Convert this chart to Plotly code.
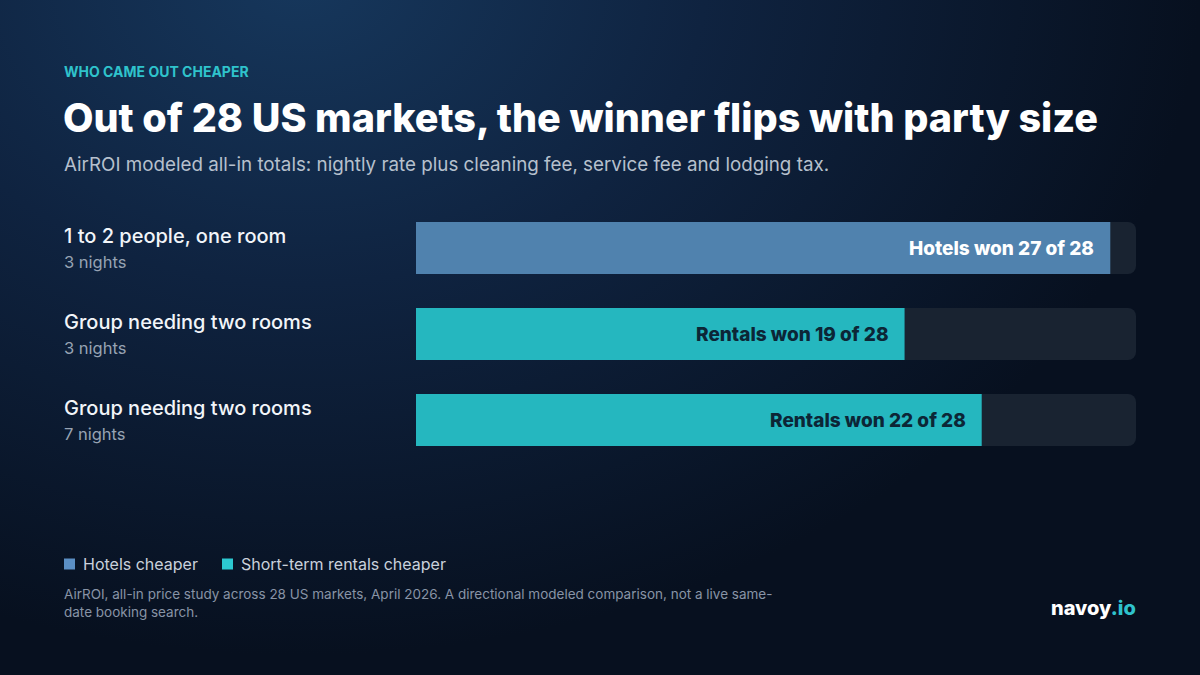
import base64
import plotly.graph_objects as go

# ---- data ----
scenarios = ["1 to 2 people, one room", "Group needing two rooms", "Group needing two rooms"]
stays = ["3 nights", "3 nights", "7 nights"]
winners = ["Hotels", "Rentals", "Rentals"]
wins = [27, 19, 22]
total_markets = 28
legend_labels = ["Hotels cheaper", "Short-term rentals cheaper"]

# ---- style ----
HOTEL = "#5082ae"
RENTAL = "#25b7bf"
TRACK = "#192331"
FONT = "Inter"

# layout geometry (pixels)
W, H = 1200, 675
L, R = 416, 64
T, B = 205, 212
pw, ph = W - L - R, H - T - B

def px_x(px):
    return (px - L) / pw

def px_y(py):
    return 1 - (py - T) / ph

svg = f"""<svg xmlns='http://www.w3.org/2000/svg' width='{W}' height='{H}' viewBox='0 0 {W} {H}'>
<defs>
<radialGradient id='g' cx='300' cy='-20' r='900' gradientUnits='userSpaceOnUse' gradientTransform='translate(300,-20) scale(1,0.75) translate(-300,20)'>
<stop offset='0' stop-color='#16375c'/>
<stop offset='0.45' stop-color='#0f2340'/>
<stop offset='1' stop-color='#07101f'/>
</radialGradient>
</defs>
<rect width='{W}' height='{H}' fill='#07101f'/>
<rect width='{W}' height='{H}' fill='url(#g)'/>
</svg>"""
bg_uri = "data:image/svg+xml;base64," + base64.b64encode(svg.encode()).decode()

ypos = list(range(len(wins)))
colors = [HOTEL if w == "Hotels" else RENTAL for w in winners]
text_colors = ["#ffffff" if w == "Hotels" else "#0c2636" for w in winners]
labels = [f"{w} won {v} of {total_markets}" for w, v in zip(winners, wins)]

fig = go.Figure()
fig.add_trace(go.Bar(
    y=ypos, x=[total_markets] * len(wins), orientation="h",
    marker=dict(color=TRACK, cornerradius=8, line=dict(width=0)),
    width=0.605, hoverinfo="skip", showlegend=False,
))
fig.add_trace(go.Bar(
    y=ypos, x=wins, orientation="h",
    marker=dict(color=colors, cornerradius=8, line=dict(width=0)),
    width=0.605, showlegend=False,
))

XS = -2  # compensate annotation padding
annotations = []
for i, (lab, v, tc) in enumerate(zip(labels, wins, text_colors)):
    annotations.append(dict(x=v, xref="x", y=i, yref="y", xshift=-14, text=lab,
                            showarrow=False, xanchor="right", yanchor="middle",
                            font=dict(family=FONT, size=19, color=tc, weight=800)))
for i, (s, n) in enumerate(zip(scenarios, stays)):
    annotations.append(dict(x=px_x(64), xref="paper", y=i, yref="y", yshift=12, xshift=XS,
                            text=s, showarrow=False, xanchor="left", yanchor="middle",
                            font=dict(family=FONT, size=20, color="#f2f5f9", weight=500)))
    annotations.append(dict(x=px_x(64), xref="paper", y=i, yref="y", yshift=-14, xshift=XS,
                            text=n, showarrow=False, xanchor="left", yanchor="middle",
                            font=dict(family=FONT, size=16.5, color="#97a3b3")))

# header
annotations += [
    dict(x=px_x(64), y=px_y(71), xref="paper", yref="paper", text="WHO CAME OUT CHEAPER",
         showarrow=False, xanchor="left", yanchor="middle", xshift=XS,
         font=dict(family=FONT, size=14, color="#2fc3cc", weight=700)),
    dict(x=px_x(63), y=px_y(118), xref="paper", yref="paper",
         text="Out of 28 US markets, the winner flips with party size",
         showarrow=False, xanchor="left", yanchor="middle", xshift=XS,
         font=dict(family=FONT, size=39.5, color="#ffffff", weight=800)),
    dict(x=px_x(64), y=px_y(164), xref="paper", yref="paper",
         text="AirROI modeled all-in totals: nightly rate plus cleaning fee, service fee and lodging tax.",
         showarrow=False, xanchor="left", yanchor="middle", xshift=XS,
         font=dict(family=FONT, size=18.8, color="#b6c0cd")),
    # legend
    dict(x=px_x(83), y=px_y(564), xref="paper", yref="paper", text=legend_labels[0],
         showarrow=False, xanchor="left", yanchor="middle", xshift=XS,
         font=dict(family=FONT, size=16, color="#c9d1dc")),
    dict(x=px_x(241), y=px_y(564), xref="paper", yref="paper", text=legend_labels[1],
         showarrow=False, xanchor="left", yanchor="middle", xshift=XS,
         font=dict(family=FONT, size=16, color="#c9d1dc")),
    # footnote
    dict(x=px_x(64), y=px_y(603), xref="paper", yref="paper",
         text="AirROI, all-in price study across 28 US markets, April 2026. A directional modeled comparison, not a live same-<br>date booking search.",
         showarrow=False, xanchor="left", yanchor="middle", align="left", xshift=XS,
         font=dict(family=FONT, size=13.5, color="#8894a6")),
    # brand
    dict(x=px_x(1136), y=px_y(608), xref="paper", yref="paper",
         text="navoy<span style='color:#2fc3cc'>.io</span>",
         showarrow=False, xanchor="right", yanchor="middle", xshift=2,
         font=dict(family=FONT, size=20, color="#ffffff", weight=800)),
]

shapes = [
    dict(type="rect", xref="paper", yref="paper", x0=px_x(64), x1=px_x(75),
         y0=px_y(569.5), y1=px_y(558.5), fillcolor="#5b8fc4", line=dict(width=0)),
    dict(type="rect", xref="paper", yref="paper", x0=px_x(222), x1=px_x(233),
         y0=px_y(569.5), y1=px_y(558.5), fillcolor="#2cc8d0", line=dict(width=0)),
]

fig.update_layout(
    width=W, height=H,
    margin=dict(l=L, r=R, t=T, b=B),
    paper_bgcolor="#07101f", plot_bgcolor="rgba(0,0,0,0)",
    barmode="overlay",
    xaxis=dict(range=[0, total_markets], visible=False, fixedrange=True),
    yaxis=dict(range=[len(wins) - 0.5, -0.5], visible=False, fixedrange=True),
    annotations=annotations, shapes=shapes,
    images=[dict(source=bg_uri, xref="paper", yref="paper",
                 x=-L / pw, y=1 + T / ph, sizex=W / pw, sizey=H / ph,
                 xanchor="left", yanchor="top", sizing="stretch", layer="below")],
    showlegend=False,
)

fig.write_html("out.html", config={"displayModeBar": False},
               post_script="document.body.style.margin='0';document.body.style.background='#07101f';")
